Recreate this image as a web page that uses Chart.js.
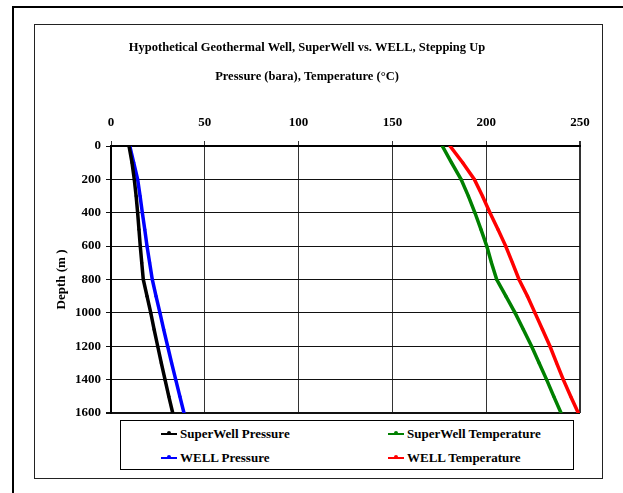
<!DOCTYPE html>
<html>
<head>
<meta charset="utf-8">
<script src="https://cdn.jsdelivr.net/npm/chart.js@4"></script>
<style>
  html, body { margin: 0; padding: 0; background: #fff; }
  #wrap { position: relative; width: 623px; height: 493px; overflow: hidden; }
  #wellChart { position: absolute; left: 0; top: 0; }
  .frame { position: absolute; pointer-events: none; }
  #outer { left: 12px; top: 6px; width: 700px; height: 600px; border: 2px solid #000; }
  #inner { left: 34px; top: 24px; width: 567px; height: 453px; border: 1.5px solid #222; }
  #legend {
    position: absolute; left: 120px; top: 420px; width: 452px; height: 48px;
    border: 1px solid #000; background: #fff;
    font: bold 13px "Liberation Serif", "Times New Roman", serif;
  }
  .item { position: absolute; display: flex; align-items: center; white-space: nowrap; }
  .sample { position: relative; width: 16px; height: 2px; margin-right: 3px; }
  .sample i { position: absolute; left: 6px; top: -2px; width: 4px; height: 4px; border-radius: 2px; }
</style>
</head>
<body>
<div id="wrap">
  <canvas id="wellChart" width="623" height="493"></canvas>
  <div class="frame" id="outer"></div>
  <div class="frame" id="inner"></div>
  <div id="legend"></div>
</div>
<script>
// depth stations (m), one reading every 100 m
const depths = [0, 100, 200, 300, 400, 500, 600, 700, 800, 900, 1000, 1100, 1200, 1300, 1400, 1500, 1600];

// pressures in bara
const superWellPressure = [9.6, 11.2, 12.4, 13.4, 14.2, 14.9, 15.6, 16.4, 17.2, 19.2, 21.2, 23.0, 24.9, 26.8, 28.8, 30.8, 32.9];
const wellPressure      = [10.0, 12.1, 14.2, 15.5, 16.7, 18.0, 19.2, 20.6, 22.0, 24.0, 26.1, 28.1, 30.2, 32.3, 34.5, 36.7, 38.9];

// temperatures in deg C
const superWellTemp = [176.6, 181.5, 186.6, 190.5, 194.0, 197.2, 200.3, 202.8, 205.6, 210.5, 215.4, 219.8, 224.2, 228.2, 232.2, 236.0, 239.9];
const wellTemp      = [180.7, 187.5, 193.7, 198.0, 202.0, 206.3, 210.4, 214.0, 217.5, 222.0, 226.0, 230.0, 234.0, 237.5, 241.1, 245.0, 249.1];

const xTicks = [0, 50, 100, 150, 200, 250];
const yTicks = [0, 200, 400, 600, 800, 1000, 1200, 1400, 1600];

const seriesNames  = ["SuperWell Pressure", "WELL Pressure", "SuperWell Temperature", "WELL Temperature"];
const seriesColors = ["#000000", "#0000ff", "#008000", "#ff0000"];
const seriesValues = [superWellPressure, wellPressure, superWellTemp, wellTemp];

const serif = "'Liberation Serif', 'Times New Roman', serif";

function toPoints(vals) {
  return vals.map((v, i) => ({ x: v, y: depths[i] }));
}

const datasets = seriesValues.map((vals, i) => ({
  label: seriesNames[i],
  data: toPoints(vals),
  showLine: true,
  borderColor: seriesColors[i],
  backgroundColor: seriesColors[i],
  borderWidth: 3.5,
  pointRadius: 1.6,
  pointBorderWidth: 0,
  tension: 0
}));

// legend box below the plot, two columns
const legendEl = document.getElementById("legend");
const legendSpots = [[40, 13], [40, 37], [267, 13], [267, 37]];
seriesNames.forEach((name, i) => {
  const item = document.createElement("div");
  item.className = "item";
  item.style.left = legendSpots[i][0] + "px";
  item.style.top = (legendSpots[i][1] - 8) + "px";
  item.innerHTML = '<span class="sample" style="background:' + seriesColors[i] + '"><i style="background:' +
    seriesColors[i] + '"></i></span>' + name;
  legendEl.appendChild(item);
});

const ctx = document.getElementById("wellChart").getContext("2d");

new Chart(ctx, {
  type: "scatter",
  data: { datasets: datasets },
  options: {
    responsive: false,
    animation: false,
    layout: { padding: { left: 34, right: 43, top: 24, bottom: 80 } },
    plugins: {
      legend: { display: false },
      tooltip: { enabled: false },
      title: {
        display: true,
        text: ["Hypothetical Geothermal Well, SuperWell vs. WELL, Stepping Up", "Pressure (bara), Temperature (\u00B0C)"],
        color: "#000",
        font: { family: serif, size: 12.5, weight: "bold", lineHeight: 2.32 },
        padding: { top: 9.5, bottom: 0 }
      }
    },
    scales: {
      x: {
        type: "linear",
        position: "top",
        min: 0,
        max: 250,
        afterBuildTicks: (axis) => { axis.ticks = xTicks.map(v => ({ value: v })); },
        afterFit: (axis) => { axis.height = 54.5; },
        grid: {
          color: "#333",
          lineWidth: (c) => (c.index === xTicks.length - 1 ? 2 : 1),
          tickLength: 5
        },
        border: { color: "#000", width: 2 },
        ticks: {
          color: "#000",
          padding: 11,
          font: { family: serif, size: 13, weight: "bold" },
          callback: (v) => String(v)
        }
      },
      y: {
        type: "linear",
        reverse: true,
        min: 0,
        max: 1600,
        afterBuildTicks: (axis) => { axis.ticks = yTicks.map(v => ({ value: v })); },
        afterFit: (axis) => { axis.width = 77; },
        grid: {
          color: "#111",
          lineWidth: (c) => (c.index === yTicks.length - 1 ? 2 : 1),
          tickLength: 5
        },
        border: { color: "#000", width: 2 },
        title: {
          display: true,
          text: "Depth (m )",
          color: "#000",
          font: { family: serif, size: 13, weight: "bold" },
          padding: { top: 20, bottom: 0 }
        },
        ticks: {
          color: "#000",
          padding: 5,
          font: { family: serif, size: 13, weight: "bold" },
          callback: (v) => String(v)
        }
      }
    }
  }
});
</script>
</body>
</html>
